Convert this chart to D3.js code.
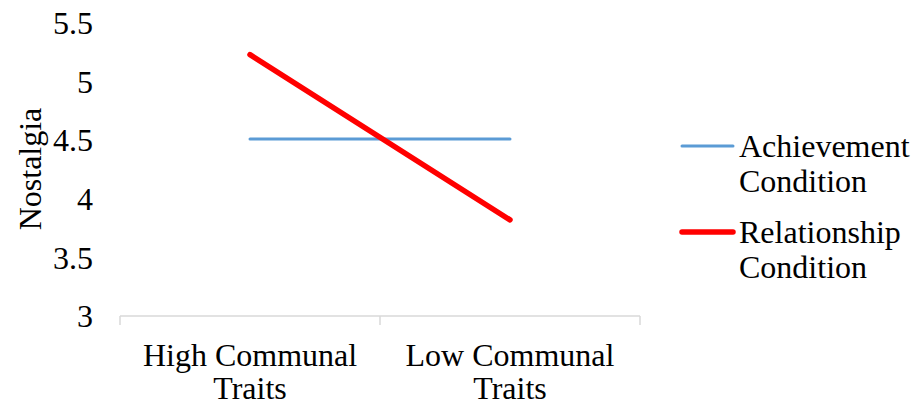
<!DOCTYPE html>
<html>
<head>
<meta charset="utf-8">
<script src="https://cdn.jsdelivr.net/npm/d3@7"></script>
</head>
<body style="margin:0;background:#fff">
<svg width="915" height="404" font-family="Liberation Serif"></svg>
<script>
const categories = [['High Communal', 'Traits'], ['Low Communal', 'Traits']];
const seriesNames = [['Achievement', 'Condition'], ['Relationship', 'Condition']];
const achievement = [4.51, 4.51];
const relationship = [5.23, 3.82];
const yTicks = [3, 3.5, 4, 4.5, 5, 5.5];
const colors = ['#5b9bd5', '#ff0000'];
const widths = [3, 5.5];

const svg = d3.select('svg');
const fontSize = 32;

const x = d3.scaleBand().domain([0, 1]).range([120, 640]);
const y = d3.scaleLinear().domain([3, 5.5]).range([316, 23]);

// y tick labels (no axis line, as in the original)
svg.append('g')
      .selectAll('text')
      .data(yTicks)
      .enter()
      .append('text')
      .attr('x', 93)
      .attr('y', d => y(d))
      .attr('dy', '0.35em')
      .attr('text-anchor', 'end')
      .attr('font-family', 'Liberation Serif')
      .attr('font-size', fontSize)
      .text(d => d);

svg.append('text')
      .attr('transform', 'translate(30,169) rotate(-90)')
      .attr('dy', '0.35em')
      .attr('text-anchor', 'middle')
      .attr('font-family', 'Liberation Serif')
      .attr('font-size', fontSize)
      .text('Nostalgia');

// x axis with ticks between categories
const axis = svg.append('g');
axis.append('line')
      .attr('x1', 120).attr('x2', 640)
      .attr('y1', 316).attr('y2', 316)
      .style('stroke', '#d9d9d9')
      .style('stroke-width', '1.5px');
axis.selectAll('line.tick')
      .data([0, 1, 2])
      .enter()
      .append('line')
      .attr('class', 'tick')
      .attr('x1', d => 120 + d * x.bandwidth())
      .attr('x2', d => 120 + d * x.bandwidth())
      .attr('y1', 316).attr('y2', 325)
      .style('stroke', '#d9d9d9')
      .style('stroke-width', '1.5px');

axis.selectAll('text.cat')
      .data(categories)
      .enter()
      .append('text')
      .attr('class', 'cat')
      .attr('y', 366)
      .attr('text-anchor', 'middle')
      .attr('font-family', 'Liberation Serif')
      .attr('font-size', fontSize)
      .each(function (d, i) {
        d3.select(this)
              .selectAll('tspan')
              .data(d)
              .enter()
              .append('tspan')
              .attr('x', x(i) + x.bandwidth() / 2)
              .attr('dy', (t, j) => (j === 0 ? 0 : 33))
              .text(t => t);
      });

const line = d3.line()
      .x((d, i) => x(i) + x.bandwidth() / 2)
      .y(d => y(d));

[achievement, relationship].forEach((s, i) => {
  svg.append('path')
        .attr('d', line(s))
        .style('fill', 'none')
        .style('stroke', colors[i])
        .style('stroke-width', `${widths[i]}px`)
        .style('stroke-linecap', 'round');
});

// legend
const legendY = [146, 232];
seriesNames.forEach((name, i) => {
  const g = svg.append('g');
  g.append('line')
        .attr('x1', 682).attr('x2', 733)
        .attr('y1', legendY[i]).attr('y2', legendY[i])
        .style('stroke', colors[i])
        .style('stroke-width', `${widths[i]}px`)
        .style('stroke-linecap', 'round');
  g.append('text')
        .attr('x', 739)
        .attr('y', legendY[i] + 11)
        .attr('font-family', 'Liberation Serif')
        .attr('font-size', fontSize)
        .selectAll('tspan')
        .data(name)
        .enter()
        .append('tspan')
        .attr('x', 739)
        .attr('dy', (t, j) => (j === 0 ? 0 : 35))
        .text(t => t);
});
</script>
</body>
</html>
